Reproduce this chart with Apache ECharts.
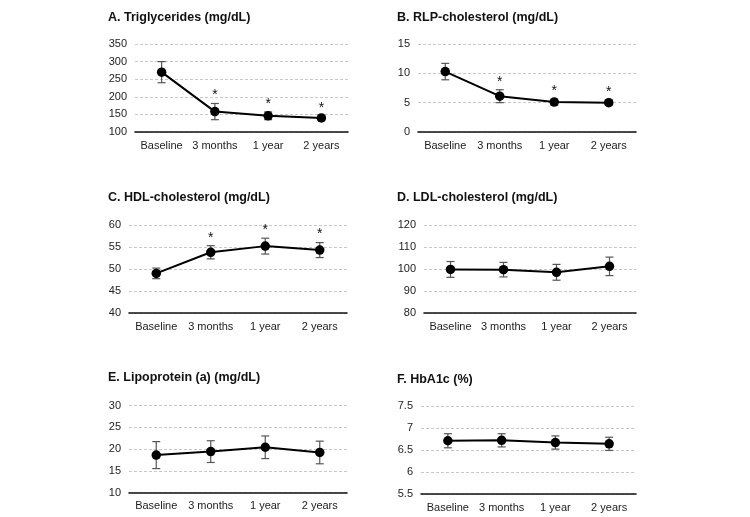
<!DOCTYPE html>
<html><head><meta charset="utf-8">
<script src="https://cdn.jsdelivr.net/npm/echarts@6/dist/echarts.min.js"></script>
<style>html,body{margin:0;padding:0;background:#fff}#c{width:750px;height:517px}</style>
</head><body><div id="c"></div>
<script>
const categories = ['Baseline', '3 months', '1 year', '2 years'];
const titles = ['A. Triglycerides (mg/dL)', 'B. RLP-cholesterol (mg/dL)', 'C. HDL-cholesterol (mg/dL)', 'D. LDL-cholesterol (mg/dL)', 'E. Lipoprotein (a) (mg/dL)', 'F. HbA1c (%)'];
const meanTG = [270, 158, 146, 140];
const errTG = [30, 23, 11, 6];
const meanRLP = [10.3, 6.1, 5.1, 5.0];
const errRLP = [1.4, 1.1, 0.5, 0.4];
const meanHDL = [49.0, 53.8, 55.2, 54.3];
const errHDL = [1.2, 1.5, 1.8, 1.7];
const meanLDL = [99.8, 99.7, 98.5, 101.2];
const errLDL = [3.6, 3.3, 3.6, 4.2];
const meanLPA = [18.6, 19.4, 20.4, 19.2];
const errLPA = [3.1, 2.5, 2.6, 2.6];
const meanHBA = [6.71, 6.72, 6.67, 6.64];
const errHBA = [0.16, 0.15, 0.15, 0.15];
const sigTG = [0, 1, 1, 1];
const sigRLP = [0, 1, 1, 1];
const sigHDL = [0, 1, 1, 1];
const sigNone = [0, 0, 0, 0];
const yMin = [100, 0, 40, 80, 10, 5.5];
const yMax = [350, 15, 60, 120, 30, 7.5];
const yStep = [50, 5, 5, 10, 5, 0.5];

const panels = [
  {mean: meanTG, err: errTG, sig: sigTG},
  {mean: meanRLP, err: errRLP, sig: sigRLP},
  {mean: meanHDL, err: errHDL, sig: sigHDL},
  {mean: meanLDL, err: errLDL, sig: sigNone},
  {mean: meanLPA, err: errLPA, sig: sigNone},
  {mean: meanHBA, err: errHBA, sig: sigNone}
];
const layout = [
  {left: 135, width: 213, top: 44, height: 88, tx: 103, ty: 6},
  {left: 418, width: 218, top: 44, height: 88, tx: 392, ty: 6},
  {left: 129, width: 218, top: 225, height: 88, tx: 103, ty: 186},
  {left: 424, width: 212, top: 225, height: 88, tx: 392, ty: 186},
  {left: 129, width: 218, top: 405.5, height: 87, tx: 103, ty: 366},
  {left: 421, width: 215, top: 406, height: 88, tx: 392, ty: 368}
];
const font = 'Liberation Sans, Arial, sans-serif';
const option = {backgroundColor: '#fff', animation: false, title: [], grid: [], xAxis: [], yAxis: [], series: []};
panels.forEach((p, i) => {
  const L = layout[i];
  option.title.push({text: titles[i], left: L.tx, top: L.ty, textStyle: {fontFamily: font, fontSize: 12.5, fontWeight: 'bold', color: '#111'}});
  option.grid.push({left: L.left, width: L.width, top: L.top, height: L.height});
  option.xAxis.push({type: 'category', gridIndex: i, data: categories, boundaryGap: true,
    axisLine: {lineStyle: {color: '#111', width: 1.6}}, axisTick: {show: false},
    axisLabel: {interval: 0, fontFamily: font, fontSize: 11, color: '#222', margin: 8}});
  option.yAxis.push({type: 'value', gridIndex: i, min: yMin[i], max: yMax[i], interval: yStep[i],
    axisLine: {show: false}, axisTick: {show: false},
    axisLabel: {fontFamily: font, fontSize: 11, color: '#222', margin: 8},
    splitLine: {lineStyle: {color: '#c8c8c8', type: [3, 2], width: 1}}});
  const errData = p.mean.map((m, k) => [k, m - p.err[k], m + p.err[k], p.sig[k]]);
  option.series.push({type: 'custom', xAxisIndex: i, yAxisIndex: i, data: errData, z: 3,
    renderItem: function (params, api) {
      const x = api.value(0);
      const lo = api.coord([x, api.value(1)]);
      const hi = api.coord([x, api.value(2)]);
      const cw = 4;
      const st = {stroke: '#555', lineWidth: 1.2};
      const children = [
        {type: 'line', shape: {x1: lo[0], y1: lo[1], x2: hi[0], y2: hi[1]}, style: st},
        {type: 'line', shape: {x1: lo[0] - cw, y1: lo[1], x2: lo[0] + cw, y2: lo[1]}, style: st},
        {type: 'line', shape: {x1: hi[0] - cw, y1: hi[1], x2: hi[0] + cw, y2: hi[1]}, style: st}
      ];
      if (api.value(3)) {
        children.push({type: 'text', style: {text: '*', x: hi[0], y: hi[1] - 8, align: 'center', verticalAlign: 'middle', fontSize: 14, fontFamily: font, fill: '#111'}});
      }
      return {type: 'group', children: children};
    }});
  option.series.push({type: 'line', xAxisIndex: i, yAxisIndex: i, data: p.mean, z: 5,
    symbol: 'circle', symbolSize: 9.5, itemStyle: {color: '#000'}, lineStyle: {color: '#000', width: 2}});
});
const chart = echarts.init(document.getElementById('c'), null, {renderer: 'canvas'});
chart.setOption(option);
</script></body></html>
